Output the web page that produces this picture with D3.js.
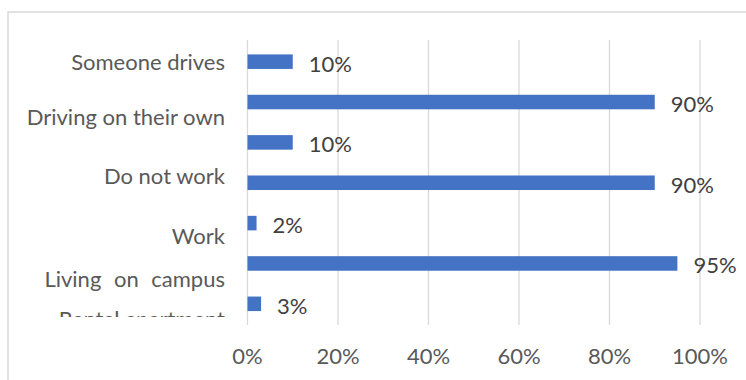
<!DOCTYPE html>
<html>
<head>
<meta charset="utf-8">
<script src="https://cdn.jsdelivr.net/npm/d3@7"></script>
<style>
  html, body { margin: 0; padding: 0; background: #fff; }
  svg { display: block; font-family: Lato, "Open Sans", sans-serif; }
</style>
</head>
<body>
<svg id="chart" width="746" height="380"></svg>
<script>
// Category labels as they appear down the left side
const categoryLabels = [
  "Someone drives",
  "Driving on their own",
  "Do not work",
  "Work",
  "Living on campus",
  "Rental apartment"
];

// Bar values (percent), top to bottom
const barValues = [10, 90, 10, 90, 2, 95, 3];

// X axis ticks (percent)
const xTicks = [0, 20, 40, 60, 80, 100];

// ---- layout ----
const W = 746, H = 380;
const plot = { left: 247.5, right: 700, top: 40, bottom: 325 };
// baselines of the category label lines (they do not line up with the bars)
const labelBaselines = [70, 125, 184, 244, 287, 327];
const labelRight = 225;
const labelClipBottom = 317;
const fontSize = 22;

const svg = d3.select("#chart");

// outer chart frame
svg.append("path")
  .attr("d", `M8,${H} L8,12 L${W},12`)
  .attr("fill", "none")
  .attr("stroke", "#d9d9d9")
  .attr("stroke-width", 1.5);

const x = d3.scaleLinear().domain([0, 100]).range([plot.left, plot.right]);
const y = d3.scaleBand()
  .domain(d3.range(barValues.length))
  .range([plot.top + 1.5, plot.bottom - 1])
  .paddingInner(0.64)
  .paddingOuter(0.32);

// vertical gridlines
svg.append("g")
  .selectAll("line")
  .data(xTicks)
  .join("line")
  .attr("x1", d => x(d)).attr("x2", d => x(d))
  .attr("y1", plot.top).attr("y2", plot.bottom)
  .attr("stroke", "#d9d9d9")
  .attr("stroke-width", 1.3);

// bars
svg.append("g")
  .selectAll("rect")
  .data(barValues)
  .join("rect")
  .attr("x", x(0))
  .attr("y", (d, i) => y(i))
  .attr("width", d => x(d) - x(0))
  .attr("height", y.bandwidth())
  .attr("fill", "#4472c4");

// value labels
svg.append("g")
  .selectAll("text")
  .data(barValues)
  .join("text")
  .attr("x", d => x(d) + 16)
  .attr("y", (d, i) => y(i) + y.bandwidth() / 2 + 10)
  .attr("fill", "#404040")
  .attr("font-size", fontSize)
  .text(d => d + "%");

// category labels (last one cut off by the plot area)
svg.append("clipPath").attr("id", "labelClip")
  .append("rect").attr("x", 0).attr("y", 0).attr("width", 240).attr("height", labelClipBottom);

svg.append("g")
  .attr("clip-path", "url(#labelClip)")
  .selectAll("text")
  .data(categoryLabels)
  .join("text")
  .attr("x", labelRight)
  .attr("y", (d, i) => labelBaselines[i])
  .attr("text-anchor", "end")
  .attr("fill", "#595959")
  .attr("font-size", fontSize)
  .attr("word-spacing", (d, i) => i === 4 ? 7 : 0)
  .text(d => d);

// x axis tick labels
svg.append("g")
  .selectAll("text")
  .data(xTicks)
  .join("text")
  .attr("x", d => x(d))
  .attr("y", 364)
  .attr("text-anchor", "middle")
  .attr("fill", "#595959")
  .attr("font-size", fontSize)
  .text(d => d + "%");
</script>
</body>
</html>
